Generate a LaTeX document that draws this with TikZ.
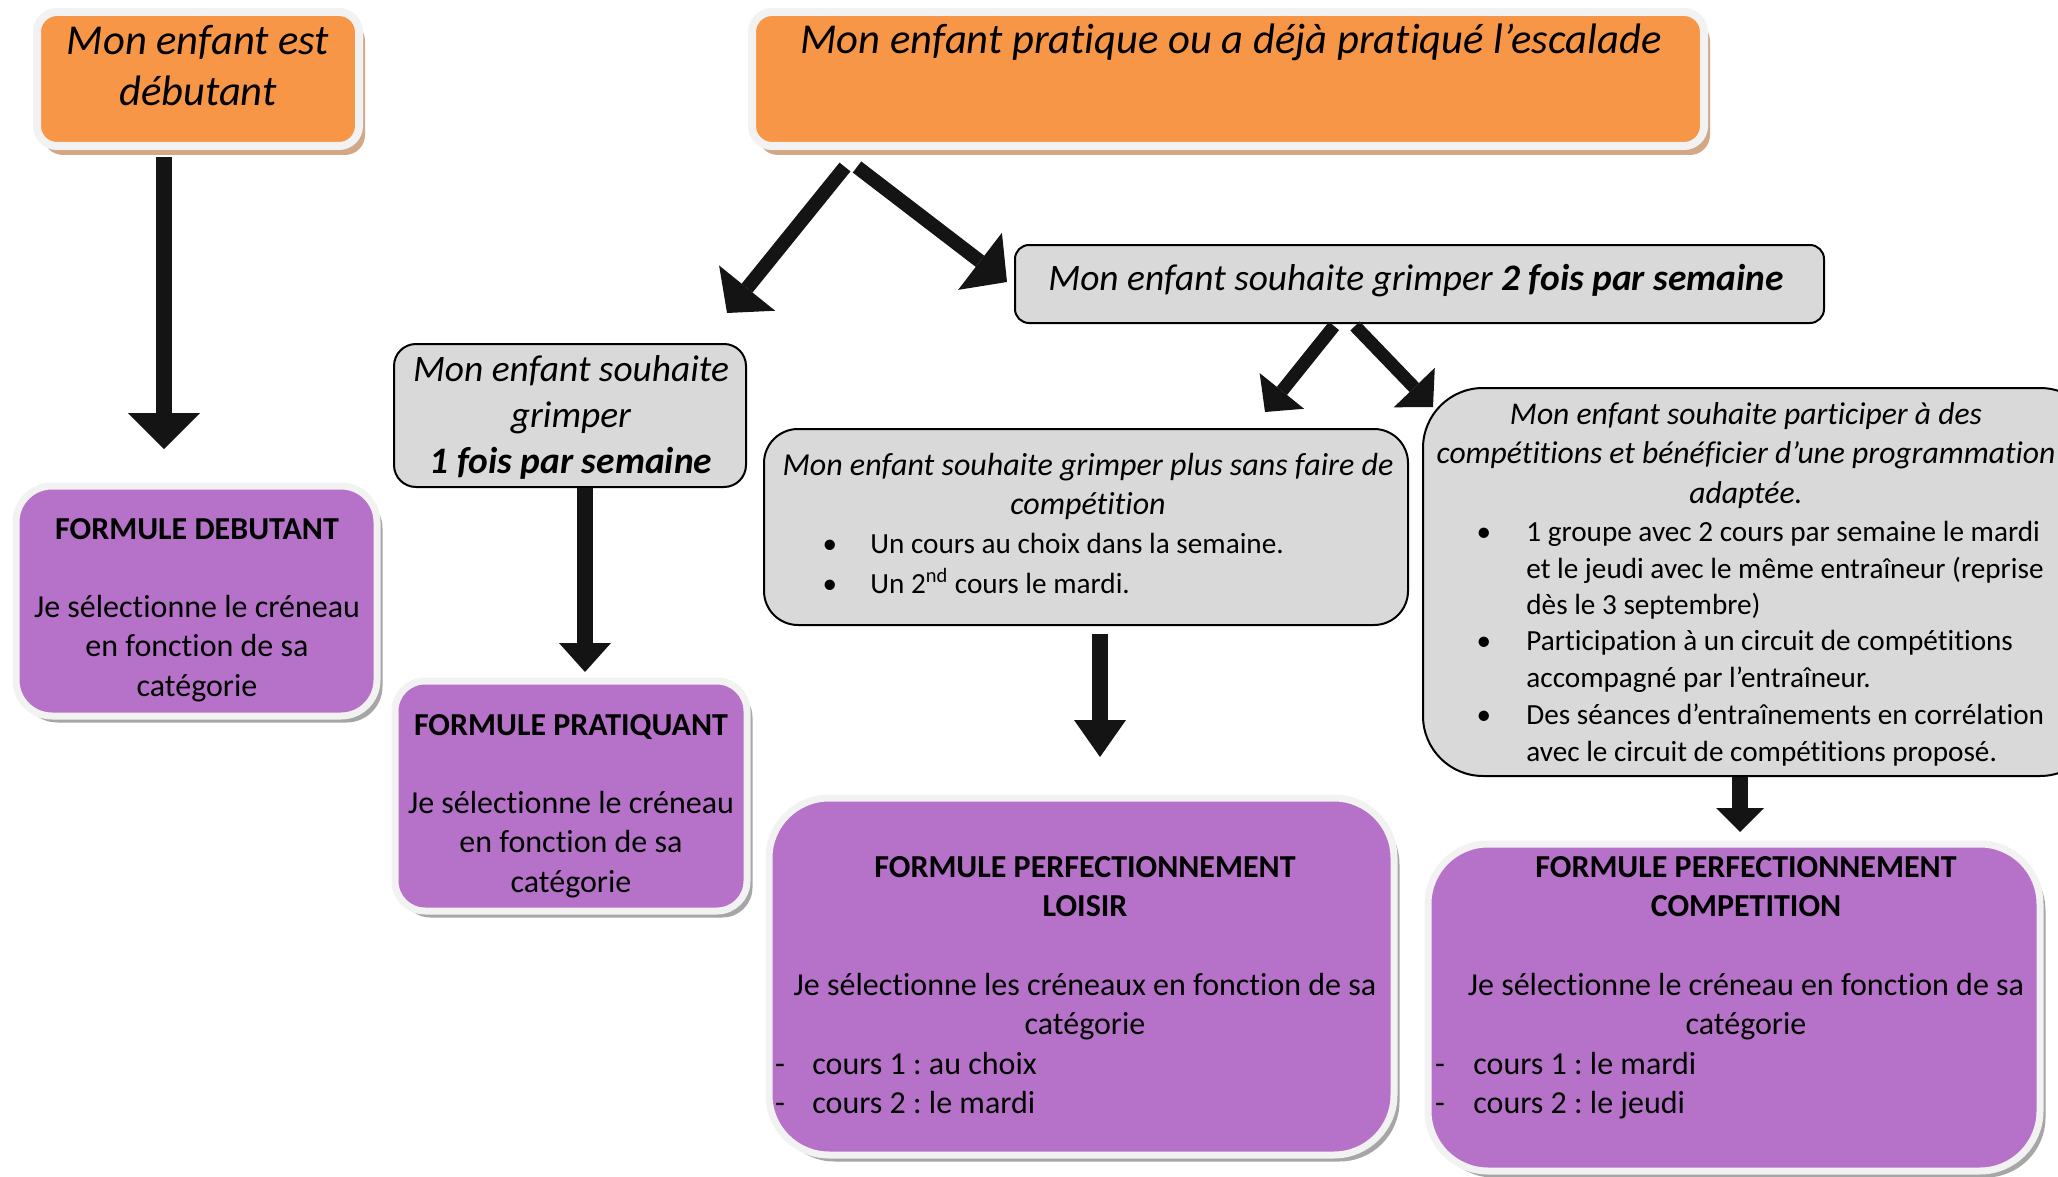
\documentclass[tikz,border=0pt]{standalone}
\usepackage{fontspec}
\setmainfont{Carlito}[Ligatures=NoCommon]
\usetikzlibrary{calc,shadows}
\definecolor{orangefill}{HTML}{F79646}
\definecolor{rimwhite}{HTML}{F2F2F2}
\definecolor{tanshadow}{HTML}{D2A887}
\definecolor{purplefill}{HTML}{B572C8}
\definecolor{greyshadow}{HTML}{A6A6A6}
\definecolor{greyfill}{HTML}{D9D9D9}
\definecolor{arrowcol}{HTML}{141414}
\newcommand{\fs}[2]{\fontsize{#1}{#2}\selectfont}
\newcommand{\tstrut}{\rule{0pt}{0.85em}}
\newcommand{\bigarrow}[5]{%
  \coordinate (hb) at ($(#2)!#4!(#1)$);
  \draw[arrowcol, line width=#3] (#1) -- (hb);
  \fill[arrowcol] (#2) -- ($(hb)!#5!90:(#2)$) -- ($(hb)!#5!-90:(#2)$) -- cycle;
}
\frenchspacing
\begin{document}
\begin{tikzpicture}[x=0.5pt,y=-0.5pt,
  orangebox/.style={fill=orangefill, draw=rimwhite, line width=4pt, rounded corners=10pt, inner sep=0pt,
    drop shadow={shadow xshift=3pt, shadow yshift=-4.5pt, fill=tanshadow, opacity=1}},
  purplebox/.style={fill=purplefill, draw=rimwhite, line width=3.5pt, inner sep=0pt,
    drop shadow={shadow xshift=2.75pt, shadow yshift=-3.25pt, fill=greyshadow, opacity=1}},
  greybox/.style={fill=greyfill, draw=black, line width=1pt, inner sep=0pt},
  txt/.style={inner sep=0pt, align=center},
  ltxt/.style={inner sep=0pt, align=left, anchor=north west},
  headit/.style={font=\fs{21.3}{25.5}\itshape},
  body/.style={font=\fs{16}{19.75}},
  bodyb/.style={font=\fs{16}{19.75}\bfseries},
  small/.style={font=\fs{14.6}{18.3}}
]
\useasboundingbox (0,0) rectangle (2058,1177);

% ---------- orange boxes ----------
\node[orangebox, minimum width=161pt, minimum height=67pt] (debq) at (198,79) {};
\node[txt, headit, anchor=north] (debqt) at (198,17.8) {\tstrut Mon enfant est\\débutant};

\node[orangebox, minimum width=476pt, minimum height=67pt] (pratq) at (1228,79) {};
\node[txt, headit, anchor=base] (pratqt) at (1231,54) {Mon enfant pratique ou a déjà pratiqué l’escalade};

% ---------- grey boxes ----------
\node[greybox, minimum width=404.5pt, minimum height=39pt, rounded corners=7pt] (deux) at (1419.5,284) {};
\node[txt, anchor=base, font=\fs{18.7}{23}\itshape] (deuxt) at (1416,290) {Mon enfant souhaite grimper \textbf{2 fois par semaine}};

\node[greybox, minimum width=176pt, minimum height=71.5pt, rounded corners=11pt] (un) at (570,415.5) {};
\node[txt, anchor=north, font=\fs{18.7}{23}\itshape] (unt) at (571,349.2) {\tstrut Mon enfant souhaite\\grimper\\\textbf{1 fois par semaine}};

\node[greybox, minimum width=322pt, minimum height=98pt, rounded corners=17pt] (loisq) at (1086,527) {};
\node[txt, anchor=north, font=\fs{16}{19.5}\itshape] (loisqt) at (1088,447.8) {\tstrut Mon enfant souhaite grimper plus sans faire de\\compétition};
\node[txt, small, anchor=base] (lb1) at (830,553) {\textbullet};
\node[txt, small, anchor=base west] (li1) at (870,553) {Un cours au choix dans la semaine.};
\node[txt, small, anchor=base] (lb2) at (830,593) {\textbullet};
\node[txt, small, anchor=base west] (li2) at (870,593) {Un 2\textsuperscript{nd} cours le mardi.};

\node[greybox, minimum width=338.5pt, minimum height=194pt, rounded corners=30pt] (compq) at (1761.5,582) {};
\node[txt, anchor=north, font=\fs{15.8}{19.75}\itshape] (compqt) at (1746,397.1) {\tstrut Mon enfant souhaite participer à des\\compétitions et bénéficier d’une programmation\\adaptée.};
\node[txt, small, anchor=base] (cb1) at (1484,541) {\textbullet};
\node[ltxt, small] (ci1) at (1526,516.2) {\tstrut 1 groupe avec 2 cours par semaine le mardi\\et le jeudi avec le même entraîneur (reprise\\dès le 3 septembre)};
\node[txt, small, anchor=base] (cb2) at (1484,650) {\textbullet};
\node[ltxt, small] (ci2) at (1526,625.2) {\tstrut Participation à un circuit de compétitions\\accompagné par l’entraîneur.};
\node[txt, small, anchor=base] (cb3) at (1484,724) {\textbullet};
\node[ltxt, small] (ci3) at (1526,699.2) {\tstrut Des séances d’entraînements en corrélation\\avec le circuit de compétitions proposé.};

% ---------- purple boxes ----------
\node[purplebox, minimum width=180.5pt, minimum height=115pt, rounded corners=18pt] (fdeb) at (196.5,601) {};
\node[txt, bodyb, anchor=base] (fdebt) at (197,539) {FORMULE DEBUTANT};
\node[txt, body, anchor=north] (fdebb) at (197,589.8) {\tstrut Je sélectionne le créneau\\en fonction de sa\\catégorie};

\node[purplebox, minimum width=176pt, minimum height=115pt, rounded corners=15pt] (fpra) at (571,796) {};
\node[txt, bodyb, anchor=base] (fprat) at (571,735) {FORMULE PRATIQUANT};
\node[txt, body, anchor=north] (fprab) at (571,785.8) {\tstrut Je sélectionne le créneau\\en fonction de sa\\catégorie};

\node[purplebox, minimum width=312.5pt, minimum height=178.5pt, rounded corners=30pt] (floi) at (1081.5,976.5) {};
\node[txt, bodyb, anchor=north] (floit) at (1085,849.8) {\tstrut FORMULE PERFECTIONNEMENT\\LOISIR};
\node[txt, body, anchor=north] (floib) at (1085,967.8) {\tstrut Je sélectionne les créneaux en fonction de sa\\catégorie};
\node[txt, body, anchor=base] (fld1) at (780,1074) {-};
\node[txt, body, anchor=base west] (fli1) at (812,1074) {cours 1 : au choix};
\node[txt, body, anchor=base] (fld2) at (780,1113) {-};
\node[txt, body, anchor=base west] (fli2) at (812,1113) {cours 2 : le mardi};

\node[purplebox, minimum width=306pt, minimum height=163.5pt, rounded corners=30pt] (fcom) at (1734,1007.5) {};
\node[txt, bodyb, anchor=north] (fcomt) at (1746,849.8) {\tstrut FORMULE PERFECTIONNEMENT\\COMPETITION};
\node[txt, body, anchor=north] (fcomb) at (1746,967.8) {\tstrut Je sélectionne le créneau en fonction de sa\\catégorie};
\node[txt, body, anchor=base] (fcd1) at (1440,1074) {-};
\node[txt, body, anchor=base west] (fci1) at (1473,1074) {cours 1 : le mardi};
\node[txt, body, anchor=base] (fcd2) at (1440,1113) {-};
\node[txt, body, anchor=base west] (fci2) at (1473,1113) {cours 2 : le jeudi};

% ---------- arrows ----------
\coordinate (a1s) at (164,157);  \coordinate (a1e) at (164,449);
\coordinate (a2s) at (845,167);  \coordinate (a2e) at (727,313);
\coordinate (a3s) at (857,167);  \coordinate (a3e) at (1007,282);
\coordinate (a4s) at (585,488);  \coordinate (a4e) at (585,672);
\coordinate (a5s) at (1100,634); \coordinate (a5e) at (1100,757);
\coordinate (a6s) at (1334,326); \coordinate (a6e) at (1265,412);
\coordinate (a7s) at (1355,326); \coordinate (a7e) at (1433,407);
\coordinate (a8s) at (1740,777); \coordinate (a8e) at (1740,832);
\bigarrow{a1s}{a1e}{8pt}{18pt}{18pt}
\bigarrow{a2s}{a2e}{7pt}{16pt}{18pt}
\bigarrow{a3s}{a3e}{7pt}{17pt}{18pt}
\bigarrow{a4s}{a4e}{8pt}{14.5pt}{13pt}
\bigarrow{a5s}{a5e}{8pt}{18.5pt}{13pt}
\bigarrow{a6s}{a6e}{6.5pt}{13.5pt}{14.25pt}
\bigarrow{a7s}{a7e}{6.5pt}{13.5pt}{14.25pt}
\bigarrow{a8s}{a8e}{8pt}{12pt}{12pt}
\end{tikzpicture}
\end{document}
